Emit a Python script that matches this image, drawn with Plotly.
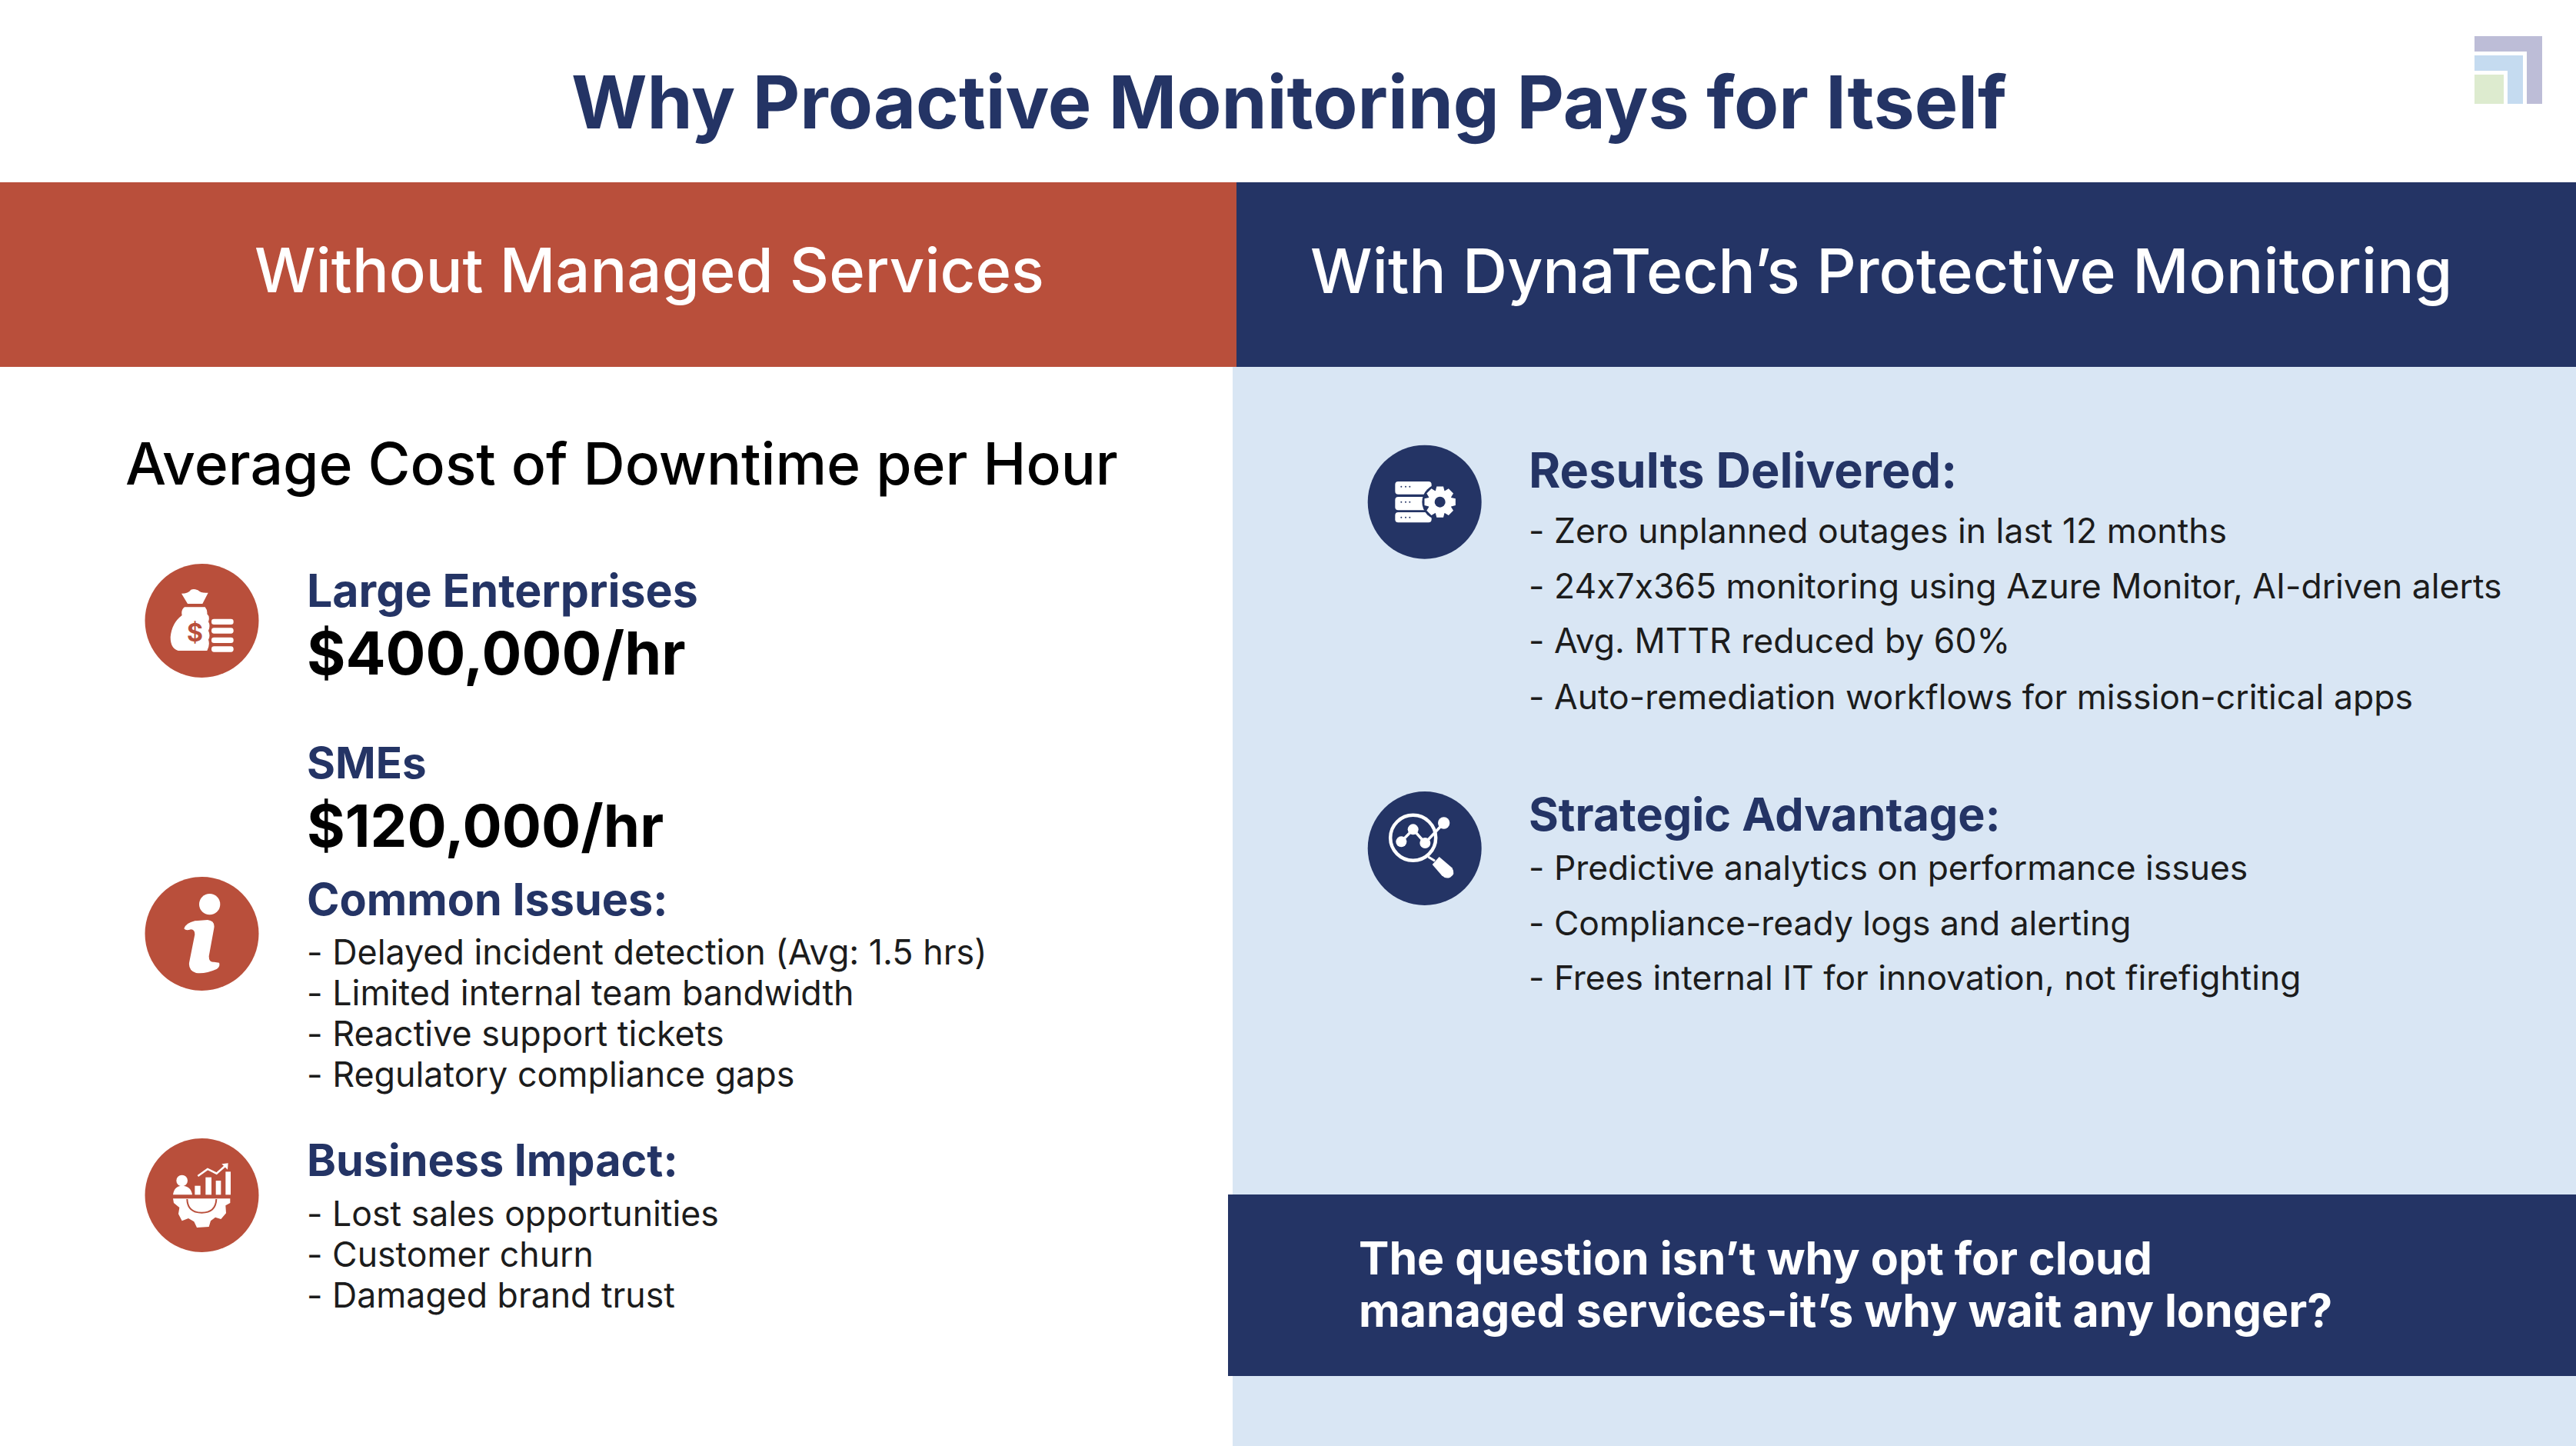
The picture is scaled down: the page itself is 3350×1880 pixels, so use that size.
import math
import re
import plotly.graph_objects as go

# slide text
title_text = "Why Proactive Monitoring Pays for Itself"
header_left = "Without Managed Services"
header_right = "With DynaTech’s Protective Monitoring"
cost_heading = "Average Cost of Downtime per Hour"
cost_labels = ["Large Enterprises", "SMEs"]
cost_values = ["$400,000/hr", "$120,000/hr"]
issues_heading = "Common Issues:"
issues_items = [
    "- Delayed incident detection (Avg: 1.5 hrs)",
    "- Limited internal team bandwidth",
    "- Reactive support tickets",
    "- Regulatory compliance gaps",
]
impact_heading = "Business Impact:"
impact_items = ["- Lost sales opportunities", "- Customer churn", "- Damaged brand trust"]
results_heading = "Results Delivered:"
results_items = [
    "- Zero unplanned outages in last 12 months",
    "- 24x7x365 monitoring using Azure Monitor, AI-driven alerts",
    "- Avg. MTTR reduced by 60%",
    "- Auto-remediation workflows for mission-critical apps",
]
strategy_heading = "Strategic Advantage:"
strategy_items = [
    "- Predictive analytics on performance issues",
    "- Compliance-ready logs and alerting",
    "- Frees internal IT for innovation, not firefighting",
]
closing_lines = [
    "The question isn’t why opt for cloud",
    "managed services-it’s why wait any longer?",
]

RED = "#B94F3B"
NAVY = "#243465"
PALE = "#D9E6F4"
WHITE = "#FFFFFF"
INK = "#1C1C1C"
FONT = "Inter"

shapes = []
annotations = []


def rect(x0, y0, x1, y1, color):
    shapes.append(dict(type="rect", x0=x0, y0=y0, x1=x1, y1=y1, fillcolor=color, line_width=0))


def circle(cx, cy, r, color):
    shapes.append(dict(type="circle", x0=cx - r, y0=cy - r, x1=cx + r, y1=cy + r,
                       fillcolor=color, line_width=0))


def text(x, y, s, size, color, weight=400, anchor="left"):
    annotations.append(dict(x=x, y=y, text=s, showarrow=False, xanchor=anchor, yanchor="middle",
                            align=anchor, font=dict(family=FONT, size=size, color=color, weight=weight)))


# icons are drawn in crop coordinates at 3x, so each one keeps its own origin
class Icon:
    def __init__(self, ox, oy):
        self.ox, self.oy = ox, oy

    def pt(self, x, y):
        return self.ox + x / 3, self.oy + y / 3

    def path(self, d, color=WHITE, stroke=0):
        parts = re.findall(r"[MLQCZ]|-?\d+\.?\d*", d)
        out, i = [], 0
        while i < len(parts):
            if parts[i] in "MLQCZ":
                out.append(parts[i])
                i += 1
            else:
                x, y = self.pt(float(parts[i]), float(parts[i + 1]))
                out.append(f"{x:.2f},{y:.2f}")
                i += 2
        shape = dict(type="path", path=" ".join(out))
        if stroke:
            shape.update(line=dict(color=color, width=stroke), fillcolor="rgba(0,0,0,0)")
        else:
            shape.update(fillcolor=color, line_width=0)
        shapes.append(shape)

    def dot(self, x, y, r, color=WHITE):
        cx, cy = self.pt(x, y)
        circle(cx, cy, r / 3, color)

    def bar(self, x0, y0, x1, y1, r, color=WHITE):
        self.path(f"M {x0 + r} {y0} L {x1 - r} {y0} Q {x1} {y0} {x1} {y0 + r} L {x1} {y1 - r} "
                  f"Q {x1} {y1} {x1 - r} {y1} L {x0 + r} {y1} Q {x0} {y1} {x0} {y1 - r} "
                  f"L {x0} {y0 + r} Q {x0} {y0} {x0 + r} {y0} Z", color)

    def gear(self, cx, cy, outer, inner, teeth, color=WHITE):
        pts = []
        step = 2 * math.pi / teeth
        for k in range(teeth):
            a = k * step
            for da, r in ((-0.30, inner), (-0.17, outer), (0.17, outer), (0.30, inner)):
                pts.append((cx + r * math.cos(a + da * step * 1.6), cy + r * math.sin(a + da * step * 1.6)))
        d = "M " + " L ".join(f"{x:.1f} {y:.1f}" for x, y in pts) + " Z"
        self.path(d, color)


# backgrounds
rect(0, 237, 1608, 477, RED)
rect(1608, 237, 3350, 477, NAVY)
rect(1603, 477, 3350, 1880, PALE)
rect(1597, 1553, 3350, 1789, NAVY)

# logo
rect(3218, 47, 3306, 135, "#BDBDD7")
rect(3218, 67, 3286, 135, WHITE)
rect(3218, 72, 3281, 135, "#C5DBF0")
rect(3218, 92, 3261, 135, WHITE)
rect(3218, 97, 3256, 135, "#DDEBCF")

# money bag
circle(262.5, 807, 74, RED)
bag = Icon(170, 710)
bag.path("M 198 185 Q 225 185 235 170 Q 248 165 262 172 Q 275 185 302 182 L 280 225 L 222 225 Z")
bag.path("M 210 238 L 290 238 Q 300 250 298 265 Q 310 275 303 295 Q 312 310 303 330 Q 312 350 303 365 "
         "Q 310 385 298 408 L 185 408 Q 155 400 155 355 Q 160 300 200 270 Q 195 250 210 238 Z")
for y in (295, 330, 367, 402):
    bag.bar(315, y - 11, 401, y + 11, 10)
text(253, 822, "$", 32, RED, 700, "center")

# info
circle(262.5, 1214, 74, RED)
info = Icon(170, 1120)
info.dot(308, 167, 41)
info.path("M 208 262 Q 215 240 250 232 L 300 228 Q 330 232 325 260 L 305 370 Q 305 395 325 392 L 345 395 "
          "Q 350 410 335 420 Q 290 440 255 435 Q 225 425 228 395 L 250 285 Q 250 265 235 265 Q 215 272 208 262 Z")

# business impact
circle(262.5, 1554, 74, RED)
biz = Icon(170, 1460)
biz.dot(200, 225, 22)
biz.path("M 165 280 Q 170 245 200 245 Q 235 245 240 280 Z")
biz.path("M 250 245 L 272 245 L 272 280 L 250 280 Z")
biz.path("M 292 212 L 315 212 L 315 280 L 292 280 Z")
biz.path("M 332 225 L 352 225 L 352 280 L 332 280 Z")
biz.path("M 370 190 L 390 190 L 390 280 L 370 280 Z")
biz.path("M 262 207 L 300 180 L 335 197 L 368 168", WHITE, 2.5)
biz.path("M 355 160 L 380 157 L 378 182 Z")
biz.path("M 165 295 L 388 295 L 388 312 L 370 322 L 372 352 L 352 375 L 330 368 L 312 382 L 305 405 "
         "L 258 408 L 247 385 L 225 372 L 200 382 L 186 355 L 190 330 L 168 312 Z")
biz.path("M 220 297 Q 222 350 277 350 Q 332 350 334 297", RED, 2)

# servers
circle(1852.7, 652.7, 74, NAVY)
srv = Icon(1760, 560)
srv.bar(163, 198, 305, 248, 12)
srv.bar(163, 258, 305, 310, 12)
srv.bar(163, 318, 305, 358, 12)
for y in (218, 278, 338):
    for x in (187, 204, 220):
        srv.dot(x, y, 3, NAVY)
srv.dot(338, 278, 70, NAVY)
srv.gear(338, 278, 62, 47, 8)
srv.dot(338, 278, 21, NAVY)

# magnifier
circle(1852.7, 1103, 74, NAVY)
mag = Icon(1760, 1010)
cx, cy = mag.pt(233, 238)
shapes.append(dict(type="circle", x0=cx - 29.5, y0=cy - 29.5, x1=cx + 29.5, y1=cy + 29.5,
                   line=dict(color=WHITE, width=4.5), fillcolor="rgba(0,0,0,0)"))
mag.path("M 187 253 L 233 205 L 280 258 L 353 180", WHITE, 3.5)
mag.dot(187, 253, 21)
mag.dot(233, 205, 21)
mag.dot(280, 258, 21)
mag.dot(353, 180, 23)
mag.path("M 292 312 L 318 328", WHITE, 3)
mag.path("M 308 342 L 335 312 L 385 355 Q 400 380 378 392 Q 360 400 345 385 Z")

# text, sizes tuned so that line widths line up with the slide
text(1676, 132, title_text, 95, NAVY, 700, "center")
text(844, 351, header_left, 79.5, WHITE, 500, "center")
text(2446, 351, header_right, 80.4, WHITE, 500, "center")
text(161, 602, cost_heading, 75, "#000000", 500)

text(397, 767, cost_labels[0], 59, NAVY, 700)
text(397, 849, cost_values[0], 77, "#000000", 700)
text(397, 991, cost_labels[1], 56.5, NAVY, 700)
text(397, 1073, cost_values[1], 76, "#000000", 700)

text(397, 1169, issues_heading, 57.5, NAVY, 700)
for y, s in zip((1238, 1291, 1344, 1397), issues_items):
    text(397, y, s, 44.8, INK)

text(397, 1508, impact_heading, 57.5, NAVY, 700)
for y, s in zip((1578, 1631, 1684), impact_items):
    text(397, y, s, 44.6, INK)

text(1986, 611, results_heading, 63, NAVY, 700)
for y, s in zip((690, 762, 833, 906), results_items):
    text(1986, y, s, 44.5, INK)

text(1986, 1058, strategy_heading, 59.3, NAVY, 700)
for y, s in zip((1128, 1200, 1271), strategy_items):
    text(1986, y, s, 44.4, INK)

for y, s in zip((1635, 1703), closing_lines):
    text(1765, y, s, 59, WHITE, 700)

fig = go.Figure()
fig.update_layout(
    width=3350,
    height=1880,
    margin=dict(l=0, r=0, t=0, b=0),
    paper_bgcolor=WHITE,
    plot_bgcolor=WHITE,
    xaxis=dict(range=[0, 3350], visible=False, fixedrange=True),
    yaxis=dict(range=[1880, 0], visible=False, fixedrange=True),
    shapes=shapes,
    annotations=annotations,
    showlegend=False,
)

# Inter's contextual alternates turn 24x7 into 24×7, switch them off
page_css = ("document.body.style.margin='0';document.body.style.overflow='hidden';"
            "var st=document.createElement('style');"
            "st.textContent='text{font-feature-settings:\"calt\" 0;}';"
            "document.head.appendChild(st);")
fig.write_html("out.html", config=dict(displayModeBar=False), post_script=page_css)
